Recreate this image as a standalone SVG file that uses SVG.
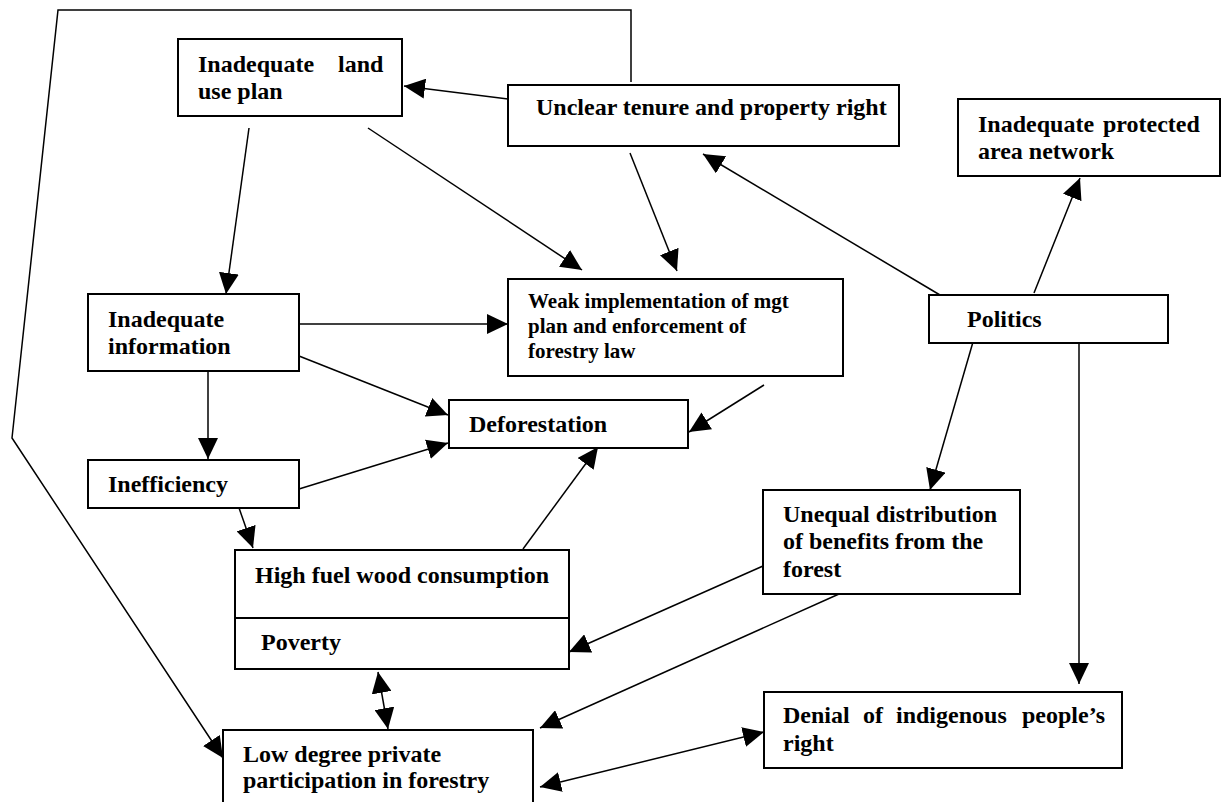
<svg xmlns="http://www.w3.org/2000/svg" width="1221" height="802" viewBox="0 0 1221 802">
<style>
.box{fill:#fff;stroke:#000;stroke-width:2}
.t{font-family:"Liberation Serif","Times New Roman",serif;font-weight:bold;font-size:24px;fill:#000}
.s{font-size:21px}
.c{fill:none;stroke:#000;stroke-width:1.5}
</style>
<defs>
<marker id="ah" markerUnits="userSpaceOnUse" markerWidth="21" markerHeight="20" refX="21" refY="10" orient="auto-start-reverse" viewBox="0 0 21 20">
<path d="M0,0 L21,10 L0,20 z" fill="#000"/>
</marker>
</defs>
<rect width="1221" height="802" fill="#fff"/>
<g id="connectors">
<polyline class="c" points="631,82 631,10 58,10 12,438 223,758" marker-end="url(#ah)"/>
<line class="c" x1="508" y1="99" x2="404" y2="86" marker-end="url(#ah)"/>
<line class="c" x1="249" y1="128" x2="226" y2="294" marker-end="url(#ah)"/>
<line class="c" x1="368" y1="128" x2="582" y2="270" marker-end="url(#ah)"/>
<line class="c" x1="630" y1="153" x2="677" y2="271" marker-end="url(#ah)"/>
<line class="c" x1="940" y1="295" x2="703" y2="154" marker-end="url(#ah)"/>
<line class="c" x1="1034" y1="293" x2="1080" y2="178" marker-end="url(#ah)"/>
<line class="c" x1="299" y1="324" x2="508" y2="324" marker-end="url(#ah)"/>
<line class="c" x1="299" y1="356" x2="448" y2="415" marker-end="url(#ah)"/>
<line class="c" x1="208" y1="371" x2="208" y2="459" marker-end="url(#ah)"/>
<line class="c" x1="299" y1="489" x2="448" y2="443" marker-end="url(#ah)"/>
<line class="c" x1="238" y1="505" x2="253" y2="548" marker-end="url(#ah)"/>
<line class="c" x1="764" y1="385" x2="689" y2="432" marker-end="url(#ah)"/>
<line class="c" x1="523" y1="549" x2="598" y2="447" marker-end="url(#ah)"/>
<line class="c" x1="973" y1="342" x2="930" y2="490" marker-end="url(#ah)"/>
<line class="c" x1="1079" y1="343" x2="1079" y2="684" marker-end="url(#ah)"/>
<line class="c" x1="763" y1="566" x2="569" y2="652" marker-end="url(#ah)"/>
<line class="c" x1="839" y1="594" x2="540" y2="728" marker-end="url(#ah)"/>
<line class="c" x1="378" y1="672" x2="388" y2="729" marker-start="url(#ah)" marker-end="url(#ah)"/>
<line class="c" x1="540" y1="787" x2="764" y2="732" marker-start="url(#ah)" marker-end="url(#ah)"/>
</g>
<g id="land">
<rect class="box" x="178" y="39" width="224" height="77"/>
<text class="t" x="198" y="72">Inadequate</text>
<text class="t" x="338" y="72">land</text>
<text class="t" x="198" y="99">use plan</text>
</g>
<g id="unclear">
<rect class="box" x="508" y="85" width="391" height="61"/>
<text class="t" x="536" y="115">Unclear tenure and property right</text>
</g>
<g id="protected">
<rect class="box" x="958" y="99" width="262" height="77"/>
<text class="t" x="978" y="132">Inadequate</text>
<text class="t" x="1103" y="132">protected</text>
<text class="t" x="978" y="159">area network</text>
</g>
<g id="info">
<rect class="box" x="88" y="294" width="211" height="77"/>
<text class="t" x="108" y="327">Inadequate</text>
<text class="t" x="108" y="354">information</text>
</g>
<g id="weak">
<rect class="box" x="508" y="279" width="335" height="97"/>
<text class="t s" x="528" y="308">Weak implementation of mgt</text>
<text class="t s" x="528" y="333">plan and enforcement of</text>
<text class="t s" x="528" y="358">forestry law</text>
</g>
<g id="politics">
<rect class="box" x="929" y="295" width="239" height="48"/>
<text class="t" x="967" y="327">Politics</text>
</g>
<g id="deforestation">
<rect class="box" x="449" y="400" width="239" height="48"/>
<text class="t" x="469" y="432">Deforestation</text>
</g>
<g id="inefficiency">
<rect class="box" x="88" y="460" width="211" height="48"/>
<text class="t" x="108" y="492">Inefficiency</text>
</g>
<g id="unequal">
<rect class="box" x="763" y="490" width="257" height="104"/>
<text class="t" x="783" y="522">Unequal distribution</text>
<text class="t" x="783" y="549">of benefits from the</text>
<text class="t" x="783" y="577">forest</text>
</g>
<g id="highfuel">
<rect class="box" x="235" y="550" width="334" height="68"/>
<text class="t" x="255" y="583">High fuel wood consumption</text>
</g>
<g id="poverty">
<rect class="box" x="235" y="618" width="334" height="51"/>
<text class="t" x="261" y="650">Poverty</text>
</g>
<g id="low">
<rect class="box" x="223" y="730" width="310" height="80"/>
<text class="t" x="243" y="762">Low degree private</text>
<text class="t" x="243" y="788">participation in forestry</text>
</g>
<g id="denial">
<rect class="box" x="764" y="692" width="358" height="76"/>
<text class="t" x="783" y="723">Denial</text>
<text class="t" x="863" y="723">of</text>
<text class="t" x="896" y="723">indigenous</text>
<text class="t" x="1022" y="723">people’s</text>
<text class="t" x="783" y="751">right</text>
</g>
</svg>
